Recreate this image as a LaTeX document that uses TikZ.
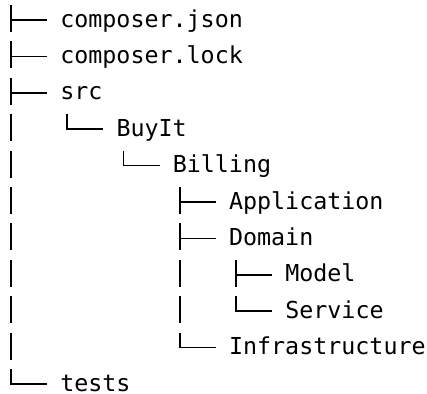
\documentclass[tikz,border=0pt]{standalone}
\usepackage{fontspec}
\usetikzlibrary{calc}
\newfontfamily\treefont{DejaVu Sans Mono}
\tikzset{
  entry/.style={anchor=west, inner sep=0pt, text height=11.5pt, text depth=1pt,
    font=\treefont\fontsize{17.5}{20}\selectfont, text=black},
  branch/.style={draw=black, line width=1.25pt, line cap=butt, line join=miter}
}
% tree connectors: a tee, a closing elbow and a pass-through bar
\newcommand\treetee[1]{%
  \draw[branch] ($(#1.west)+(-49,-15)$) -- ($(#1.west)+(-49,12)$)
                ($(#1.west)+(-49,0)$) -- ($(#1.west)+(-13,0)$);}
\newcommand\treeelbow[1]{%
  \draw[branch] ($(#1.west)+(-49,-15)$) |- ($(#1.west)+(-13,0)$);}
\newcommand\treepass[2]{%
  \draw[branch] ($(#1.west -| #2)+(0,-15)$) -- ($(#1.west -| #2)+(0,12)$);}
\begin{document}
\begin{tikzpicture}[x=0.75pt, y=-0.75pt]
  \useasboundingbox (0,0) rectangle (427,393);
  % columns of the vertical guide bars
  \coordinate (c0) at (11,0);
  \coordinate (c3) at (179.75,0);
  % entries
  \node[entry] (json)    at (60,20)      {composer.json};
  \node[entry] (lock)    at (60,56.4)    {composer.lock};
  \node[entry] (src)     at (60,92.8)    {src};
  \node[entry] (buyit)   at (116.25,129.2) {BuyIt};
  \node[entry] (billing) at (172.5,165.6)  {Billing};
  \node[entry] (app)     at (228.75,202)   {Application};
  \node[entry] (domain)  at (228.75,238.4) {Domain};
  \node[entry] (model)   at (285,274.8)    {Model};
  \node[entry] (service) at (285,311.2)    {Service};
  \node[entry] (infra)   at (228.75,347.6) {Infrastructure};
  \node[entry] (tests)   at (60,384)       {tests};
  % connectors
  \treetee{json}
  \treetee{lock}
  \treetee{src}
  \treeelbow{buyit}   \treepass{buyit}{c0}
  \treeelbow{billing} \treepass{billing}{c0}
  \treetee{app}       \treepass{app}{c0}
  \treetee{domain}    \treepass{domain}{c0}
  \treetee{model}     \treepass{model}{c0}   \treepass{model}{c3}
  \treeelbow{service} \treepass{service}{c0} \treepass{service}{c3}
  \treeelbow{infra}   \treepass{infra}{c0}
  \treeelbow{tests}
\end{tikzpicture}
\end{document}
